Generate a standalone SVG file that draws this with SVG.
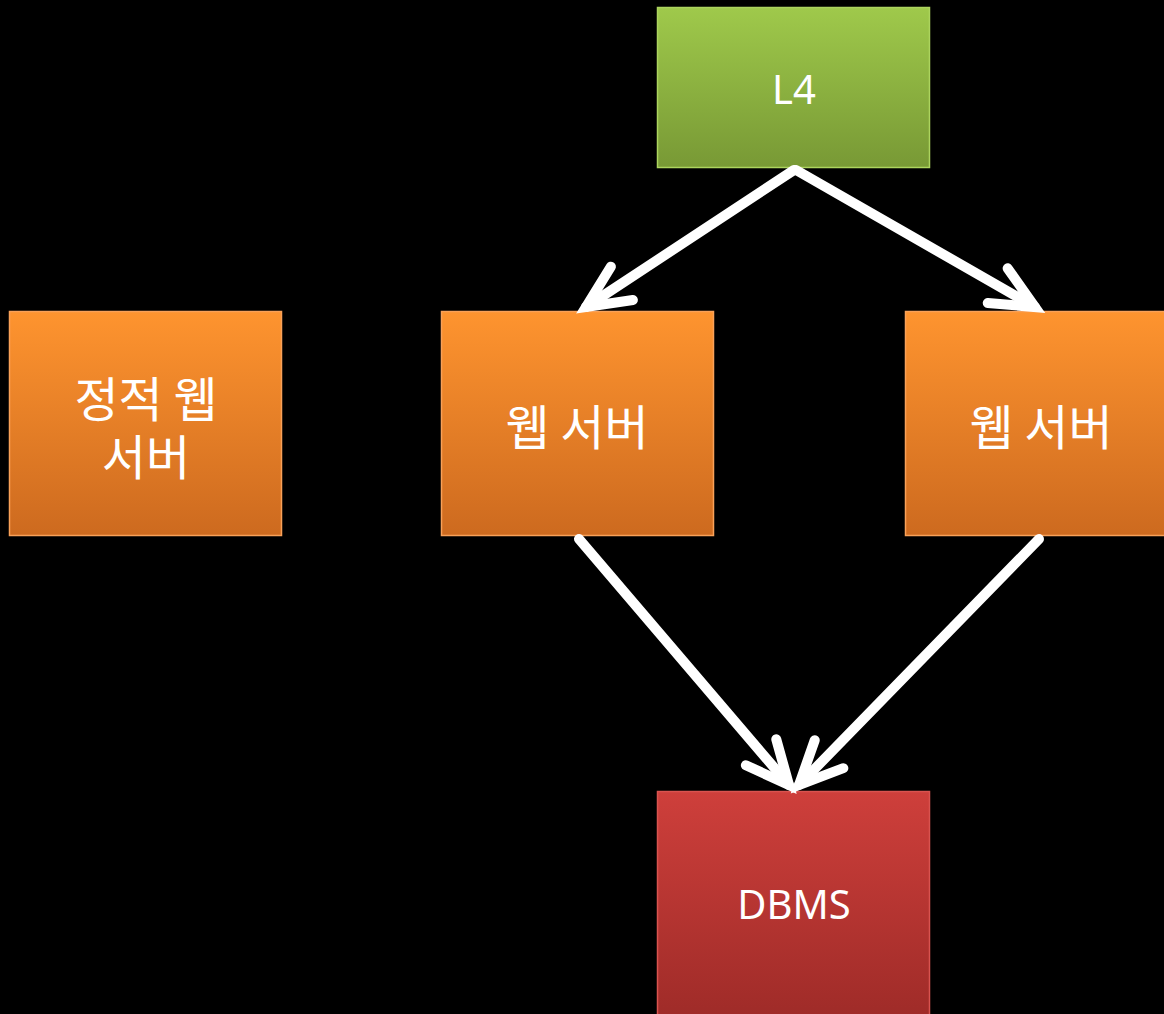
<svg xmlns="http://www.w3.org/2000/svg" width="1164" height="1014" viewBox="0 0 1164 1014">
  <style>
    .lbl { fill: #ffffff; font-family: "Noto Sans", "Noto Sans CJK KR", sans-serif; font-size: 40px; text-anchor: middle; }
    .ko { font-family: "Noto Sans CJK KR", sans-serif; font-size: 48px; }
    .orange { fill: url(#gOrange); stroke: #f9a158; stroke-width: 1.5; }
    .green { fill: url(#gGreen); stroke: #acd45e; stroke-width: 1.5; }
    .red { fill: url(#gRed); stroke: #d9534f; stroke-width: 1.5; }
    .conn { fill: none; stroke: #ffffff; stroke-width: 10; stroke-linecap: round; marker-end: url(#head); }
  </style>
  <defs>
    <linearGradient id="gOrange" x1="0" y1="0" x2="0" y2="1">
      <stop offset="0" stop-color="#fe942f"/>
      <stop offset="1" stop-color="#cd6a1f"/>
    </linearGradient>
    <linearGradient id="gGreen" x1="0" y1="0" x2="0" y2="1">
      <stop offset="0" stop-color="#9fc94b"/>
      <stop offset="1" stop-color="#789935"/>
    </linearGradient>
    <linearGradient id="gRed" x1="0" y1="0" x2="0" y2="1">
      <stop offset="0" stop-color="#ce3f3b"/>
      <stop offset="1" stop-color="#9c2a27"/>
    </linearGradient>
    <marker id="head" markerUnits="userSpaceOnUse" viewBox="-60 -30 70 60" refX="0" refY="0" markerWidth="70" markerHeight="60" orient="auto" overflow="visible">
      <path d="M -43,-20 L 0,0 L -43,20" fill="none" stroke="#ffffff" stroke-width="10" stroke-linecap="round" stroke-linejoin="miter"/>
    </marker>
  </defs>
  <rect width="1164" height="1014" fill="#000000"/>

  <g id="node-l4">
    <rect class="green" x="657.5" y="7.5" width="272" height="160"/>
    <text class="lbl" x="794" y="104">L4</text>
  </g>
  <g id="node-static-web">
    <rect class="orange" x="9.5" y="311.5" width="272" height="224"/>
    <text class="lbl ko" x="146" y="417">정적 웹</text>
    <text class="lbl ko" x="146" y="475">서버</text>
  </g>
  <g id="node-web-1">
    <rect class="orange" x="441.5" y="311.5" width="272" height="224"/>
    <text class="lbl ko" x="577" y="445">웹 서버</text>
  </g>
  <g id="node-web-2">
    <rect class="orange" x="905.5" y="311.5" width="272" height="224"/>
    <text class="lbl ko" x="1041" y="445">웹 서버</text>
  </g>
  <g id="node-dbms">
    <rect class="red" x="657.5" y="791.5" width="272" height="240"/>
    <text class="lbl" x="794" y="919">DBMS</text>
  </g>

  <g id="connectors">
    <path class="conn" d="M 794,170 L 586,307"/>
    <path class="conn" d="M 796,170 L 1035,307"/>
    <path class="conn" d="M 579,539 L 789,785"/>
    <path class="conn" d="M 1039,539 L 799,785"/>
  </g>
</svg>
